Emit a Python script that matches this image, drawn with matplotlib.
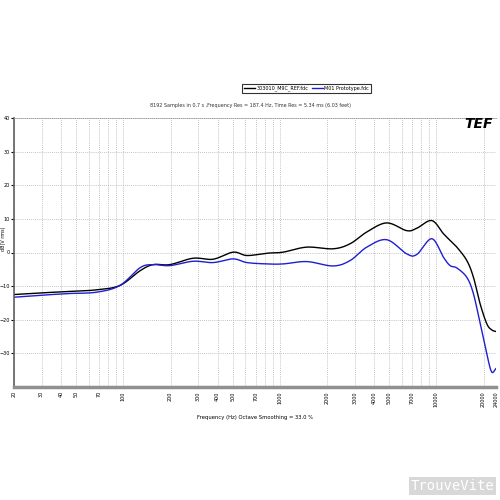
import numpy as np
import matplotlib
matplotlib.use("agg")
import matplotlib.pyplot as plt
from matplotlib.ticker import FixedLocator, FixedFormatter, NullLocator

# data
freq = [20, 30, 45, 67.5, 95, 128, 155, 198, 279, 374, 502, 616, 828, 1047, 1483,
        2183, 2806, 3588, 4811, 6452, 7480, 9330, 11070, 12220, 13490, 15630,
        17230, 19010, 20960, 22500, 24000]
ref_db = [-12.5, -12.0, -11.6, -11.1, -9.8, -5.4, -3.6, -3.6, -1.7, -2.0, 0.1, -0.9,
          -0.2, 0.1, 1.6, 1.1, 2.6, 6.1, 8.8, 6.5, 7.2, 9.5, 5.6, 3.6, 1.6, -2.4,
          -7.4, -15.3, -21.2, -23.0, -23.5]
proto_db = [-13.3, -12.7, -12.2, -11.8, -9.8, -4.5, -3.6, -3.9, -2.6, -3.0, -1.9, -3.0,
            -3.4, -3.4, -2.7, -4.0, -2.4, 1.6, 3.8, -0.4, -0.6, 4.1, -1.4, -3.9, -4.6,
            -7.4, -12.3, -21.2, -30.2, -35.5, -34.5]

tick_freqs = [20, 30, 40, 50, 70, 100, 200, 300, 400, 500, 700, 1000, 2000, 3000,
              4000, 5000, 7000, 10000, 20000, 24000]
grid_freqs = [20, 30, 40, 50, 60, 70, 80, 90, 100, 200, 300, 400, 500, 600, 700, 800,
              900, 1000, 2000, 3000, 4000, 5000, 6000, 7000, 8000, 9000, 10000, 20000]
y_ticks = [-30, -20, -10, 0, 10, 20, 30, 40]


def smooth(x, y, n=20):
    # catmull-rom through the read points
    x = np.asarray(x, float)
    y = np.asarray(y, float)
    px = np.concatenate([[2 * x[0] - x[1]], x, [2 * x[-1] - x[-2]]])
    py = np.concatenate([[2 * y[0] - y[1]], y, [2 * y[-1] - y[-2]]])
    t = np.linspace(0, 1, n, endpoint=False)
    ox, oy = [], []
    for i in range(1, len(px) - 2):
        for p, o in ((px, ox), (py, oy)):
            p0, p1, p2, p3 = p[i - 1], p[i], p[i + 1], p[i + 2]
            o.extend(0.5 * (2 * p1 + (-p0 + p2) * t + (2 * p0 - 5 * p1 + 4 * p2 - p3) * t**2
                            + (-p0 + 3 * p1 - 3 * p2 + p3) * t**3))
    ox.append(x[-1])
    oy.append(y[-1])
    return np.array(ox), np.array(oy)


fig = plt.figure(figsize=(5, 5), dpi=100)
ax = fig.add_axes([0.028, 0.226, 0.964, 0.538])

lf = np.log10(freq)
sx, sy = smooth(lf, ref_db)
ax.plot(10**sx, sy, color="black", lw=1.0, label="303010_M9C_REF.fdc")
sx, sy = smooth(lf, proto_db)
ax.plot(10**sx, sy, color="#1f1fd0", lw=1.0, label="M01 Prototype.fdc")

ax.set_xscale("log")
ax.set_xlim(20, 24000)
ax.set_ylim(-40, 40)

ax.xaxis.set_major_locator(FixedLocator(tick_freqs))
ax.xaxis.set_major_formatter(FixedFormatter([str(f) for f in tick_freqs]))
ax.xaxis.set_minor_locator(NullLocator())
ax.set_yticks(y_ticks)
ax.tick_params(axis="x", labelsize=3.5, rotation=90, length=0, pad=3)
ax.tick_params(axis="y", labelsize=3.5, length=2, pad=1)

for f in grid_freqs:
    ax.axvline(f, color="#b0b0b0", lw=0.6, ls=(0, (1, 1.5)), zorder=0)
for y in y_ticks[:-1]:
    ax.axhline(y, color="#b0b0b0", lw=0.6, ls=(0, (1, 1.5)), zorder=0)

ax.spines["top"].set_linestyle((0, (1, 1.5)))
ax.spines["top"].set_color("#909090")
ax.spines["top"].set_linewidth(0.6)
ax.spines["right"].set_visible(False)
ax.spines["left"].set_color("#606060")
ax.spines["left"].set_linewidth(1.2)
ax.spines["bottom"].set_color("#909090")
ax.spines["bottom"].set_linewidth(2.5)

ax.set_xlabel("Frequency (Hz) Octave Smoothing = 33.0 %", fontsize=3.8, labelpad=6)
ax.set_ylabel("dB(V rms)", fontsize=3.5)
ax.yaxis.set_label_coords(-0.017, 0.55)

fig.text(0.5, 0.788, "8192 Samples in 0.7 s ,Frequency Res = 187.4 Hz, Time Res = 5.34 ms (6.03 feet)",
         ha="center", va="center", fontsize=3.5, color="#333333")
fig.text(0.985, 0.752, "TEF", ha="right", va="center", fontsize=10, fontweight="bold",
         style="italic", color="black")

leg = fig.legend(loc="center", bbox_to_anchor=(0.613, 0.823), ncol=2, fontsize=3.5,
                 frameon=True, fancybox=False, handlelength=2.2, columnspacing=0.8,
                 borderpad=0.4, handletextpad=0.3)
leg.get_frame().set_edgecolor("black")
leg.get_frame().set_linewidth(0.8)

fig.text(0.905, 0.028, "TrouveVite", ha="center", va="center", fontsize=10,
         family="DejaVu Sans Mono", color="white",
         bbox=dict(facecolor="#d8d8d8", edgecolor="none", pad=1.5))

fig.savefig("out.png", dpi=100)
